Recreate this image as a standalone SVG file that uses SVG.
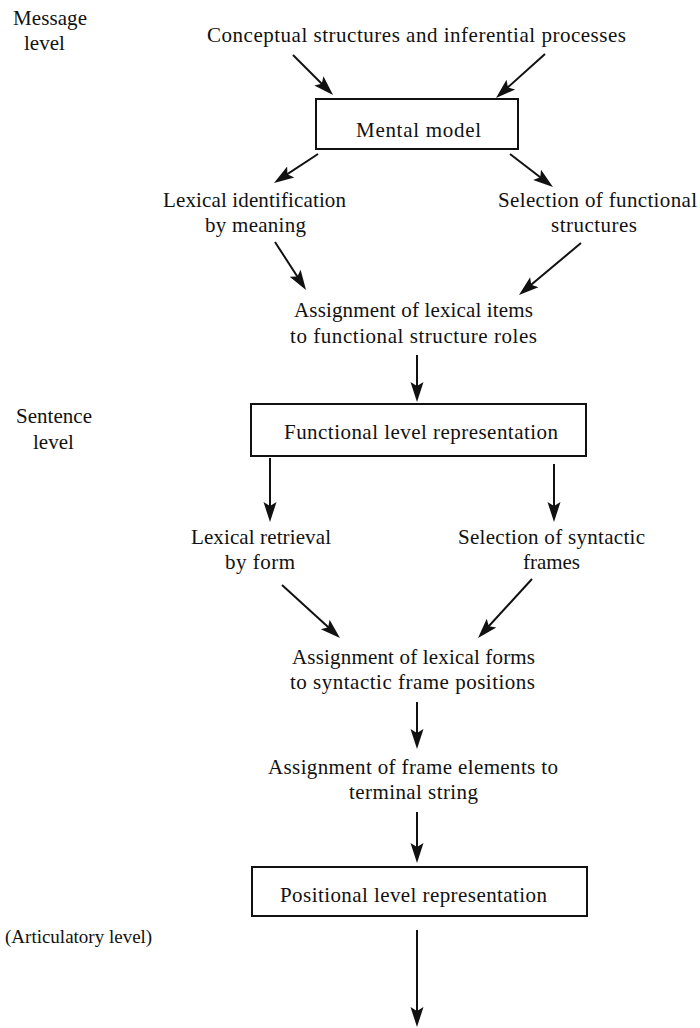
<svg xmlns="http://www.w3.org/2000/svg" width="700" height="1028" viewBox="0 0 700 1028">
  <style>
    .t { font-family: "Liberation Serif", "Times New Roman", serif; font-size: 21px; fill: #111; }
    .small { font-size: 19px; }
    .box { fill: none; stroke: #111; stroke-width: 2; }
    #connectors line { stroke: #111; stroke-width: 2; marker-end: url(#ah); }
  </style>
  <defs>
    <!-- slim filled arrowhead; tip sits 5px past the line end -->
    <marker id="ah" viewBox="-21 -7 27 14" refX="-5" refY="0" markerWidth="27" markerHeight="14" markerUnits="userSpaceOnUse" orient="auto">
      <path d="M0,0 L-20,-6.5 L-16,0 L-20,6.5 Z" fill="#111"/>
    </marker>
  </defs>
  <rect width="700" height="1028" fill="#fff"/>

  <!-- level labels -->
  <g id="label-message">
    <text class="t" x="13" y="25" textLength="74">Message</text>
    <text class="t" x="24" y="50">level</text>
  </g>
  <g id="label-sentence">
    <text class="t" x="16" y="423" textLength="76">Sentence</text>
    <text class="t" x="33" y="449">level</text>
  </g>
  <g id="label-articulatory">
    <text class="t small" x="5" y="943">(Articulatory level)</text>
  </g>

  <!-- nodes -->
  <g id="conceptual">
    <text class="t" x="207" y="42" textLength="419">Conceptual structures and inferential processes</text>
  </g>
  <g id="mental-model">
    <rect class="box" x="316" y="99" width="202" height="50"/>
    <text class="t" x="356" y="137" textLength="125">Mental model</text>
  </g>
  <g id="lexical-identification">
    <text class="t" x="163" y="207" textLength="183">Lexical identification</text>
    <text class="t" x="205" y="232" textLength="101">by meaning</text>
  </g>
  <g id="selection-functional">
    <text class="t" x="498" y="207" textLength="199">Selection of functional</text>
    <text class="t" x="551" y="232" textLength="86">structures</text>
  </g>
  <g id="assignment-items">
    <text class="t" x="294" y="317" textLength="239">Assignment of lexical items</text>
    <text class="t" x="290" y="343" textLength="247">to functional structure roles</text>
  </g>
  <g id="functional-level">
    <rect class="box" x="251" y="404" width="335" height="52"/>
    <text class="t" x="284" y="439" textLength="274">Functional level representation</text>
  </g>
  <g id="lexical-retrieval">
    <text class="t" x="191" y="544" textLength="140">Lexical retrieval</text>
    <text class="t" x="225" y="569" textLength="70">by form</text>
  </g>
  <g id="selection-syntactic">
    <text class="t" x="458" y="544" textLength="187">Selection of syntactic</text>
    <text class="t" x="523" y="569" textLength="57">frames</text>
  </g>
  <g id="assignment-forms">
    <text class="t" x="292" y="664" textLength="243">Assignment of lexical forms</text>
    <text class="t" x="290" y="689" textLength="245">to syntactic frame positions</text>
  </g>
  <g id="assignment-elements">
    <text class="t" x="268" y="774" textLength="290">Assignment of frame elements to</text>
    <text class="t" x="349" y="799" textLength="129">terminal string</text>
  </g>
  <g id="positional-level">
    <rect class="box" x="252" y="867" width="335" height="49"/>
    <text class="t" x="280" y="902" textLength="267">Positional level representation</text>
  </g>

  <!-- connectors -->
  <g id="connectors">
    <line x1="293" y1="55" x2="329.5" y2="91.5"/>
    <line x1="545" y1="54" x2="499.7" y2="94.7"/>
    <line x1="318" y1="154" x2="278.2" y2="180.2"/>
    <line x1="510" y1="154" x2="549" y2="184"/>
    <line x1="275" y1="242" x2="303.3" y2="285.8"/>
    <line x1="581" y1="243" x2="522.8" y2="291.8"/>
    <line x1="417" y1="355" x2="417" y2="397"/>
    <line x1="270" y1="458" x2="270" y2="517"/>
    <line x1="554" y1="464" x2="554" y2="517"/>
    <line x1="282" y1="585" x2="336.3" y2="634.6"/>
    <line x1="532" y1="579" x2="481.4" y2="634.3"/>
    <line x1="417" y1="702" x2="417" y2="744"/>
    <line x1="417" y1="812" x2="417" y2="858"/>
    <line x1="417" y1="930" x2="417" y2="1022"/>
  </g>
</svg>
